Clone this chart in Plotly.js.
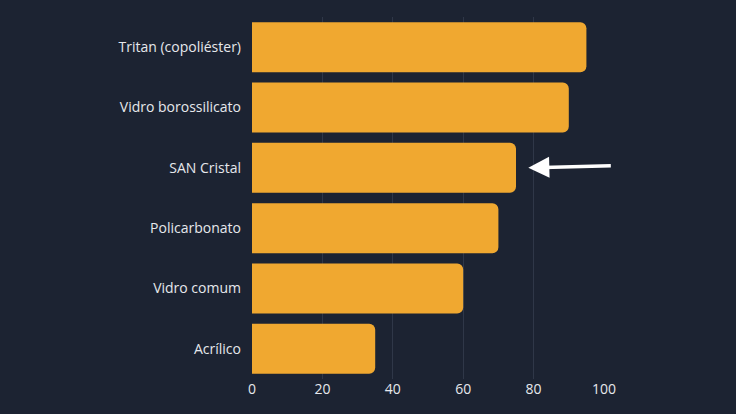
<!DOCTYPE html>
<html><head><meta charset="utf-8">
<script src="https://cdn.plot.ly/plotly-3.0.1.min.js"></script>
<style>html,body{margin:0;padding:0;background:#1c2332;}</style>
</head><body>
<div id="chart" style="width:736px;height:414px;"></div>
<script>
const categories = ["Tritan (copoliéster)", "Vidro borossilicato", "SAN Cristal", "Policarbonato", "Vidro comum", "Acrílico"];
const values = [95, 90, 75, 70, 60, 35];
const tickVals = [0, 20, 40, 60, 80, 100];
const highlight = "SAN Cristal";
const highlightValue = 78.5;

const trace = {
  type: "bar",
  orientation: "h",
  y: categories,
  x: values,
  marker: {color: "#f0a830"},
  hoverinfo: "x+y"
};
const layout = {
  width: 736, height: 414,
  paper_bgcolor: "#1c2332",
  plot_bgcolor: "#1c2332",
  margin: {l: 252, r: 132, t: 17, b: 35},
  barcornerradius: 6,
  bargap: 0.17,
  font: {family: "Open Sans, Noto Sans, sans-serif", color: "#e6e8ec", size: 14},
  showlegend: false,
  xaxis: {
    range: [0, 100],
    tickvals: tickVals,
    showgrid: true,
    gridcolor: "#2f3748",
    gridwidth: 1,
    zeroline: false,
    showline: false,
    ticks: "",
    tickfont: {size: 14, color: "#e6e8ec"}
  },
  yaxis: {
    autorange: "reversed",
    showgrid: false,
    zeroline: false,
    showline: false,
    ticks: "",
    ticklabelstandoff: 10,
    tickfont: {size: 14, color: "#e6e8ec"}
  },
  annotations: [{
    x: highlightValue, y: highlight, xref: "x", yref: "y",
    text: "", showarrow: true,
    ax: 84, ay: -2,
    arrowhead: 2, arrowsize: 1.2, arrowwidth: 3.5, arrowcolor: "#ffffff"
  }]
};
Plotly.newPlot("chart", [trace], layout, {displayModeBar: false, staticPlot: true});
</script>
</body></html>
